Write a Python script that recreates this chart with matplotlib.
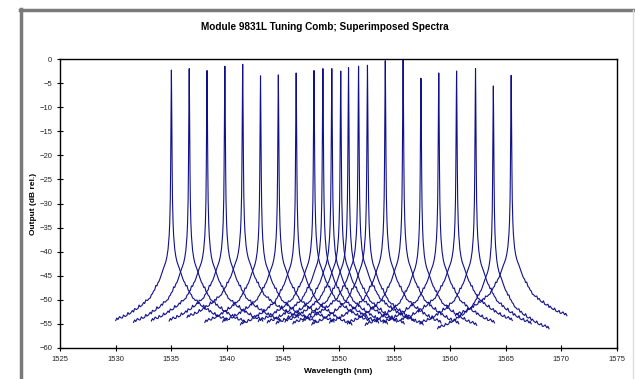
import matplotlib
matplotlib.use('Agg')
import matplotlib.pyplot as plt
from matplotlib.lines import Line2D
import numpy as np

plt.rcParams['font.family'] = ['Liberation Sans', 'DejaVu Sans']

# peak wavelength (nm), peak level and floor level (dB rel.) of each spectrum
centers = [1535.0, 1536.6, 1538.2, 1539.8, 1541.4, 1543.0, 1544.6, 1546.2,
           1547.8, 1548.6, 1549.4, 1550.2, 1550.9, 1551.8, 1552.6, 1554.2,
           1555.8, 1557.4, 1559.0, 1560.6, 1562.3, 1563.9, 1565.5]
peaks = [-2.3, -2.0, -2.4, -1.5, -1.1, -3.5, -3.3, -2.9, -2.4, -2.0, -2.0,
         -2.5, -1.8, -1.5, -1.3, -0.35, -0.05, -4.0, -2.9, -2.5, -2.0, -5.6, -3.4]
floors = [-54.3, -54.7, -54.4, -54.4, -53.7, -54.7, -54.6, -55.2, -54.5,
          -54.8, -55.0, -54.6, -55.0, -54.5, -55.2, -54.8, -55.0, -55.3,
          -54.8, -54.3, -55.0, -56.0, -53.3]

# shared line shape: distance from peak (nm) and
# fraction of the way from peak level down to floor level
shape_offset = [0.0, 0.02, 0.04, 0.07, 0.1, 0.15, 0.2, 0.3, 0.4, 0.5, 0.6,
                0.7, 0.85, 1.0, 1.1, 1.2, 1.3, 1.4, 1.5, 1.6, 1.7, 1.8, 1.9,
                2.0, 2.15, 2.3, 2.4, 2.5, 2.65, 2.8, 2.9, 3.0, 3.15, 3.3, 3.4,
                3.5, 3.65, 3.8, 3.9, 4.0, 4.15, 4.3, 4.4, 4.5, 4.65, 4.8, 4.9,
                5.0]
shape_frac = [0.0, 0.1, 0.22, 0.4, 0.52, 0.61, 0.66, 0.715, 0.745, 0.765, 0.778,
              0.79, 0.81, 0.83, 0.842, 0.848, 0.862, 0.86, 0.878, 0.882, 0.893,
              0.897, 0.91, 0.912, 0.92, 0.918, 0.932, 0.928, 0.94, 0.945,
              0.938, 0.952, 0.956, 0.952, 0.966, 0.96, 0.97, 0.975, 0.968,
              0.98, 0.984, 0.978, 0.99, 0.99, 0.984, 0.996, 0.99, 1.0]

off = np.array(shape_offset)
frac = np.array(shape_frac)
off_full = np.concatenate([-off[::-1], off[1:]])
frac_full = np.concatenate([frac[::-1], frac[1:]])

fig = plt.figure(figsize=(6.35, 3.79), dpi=100)
ax = fig.add_axes([60/635, 31/379, 557/635, 289/379])

for c, p, f in zip(centers, peaks, floors):
    ax.plot(c + off_full, p + (f - p) * frac_full, color='#10108c', lw=0.8)

ax.set_xlim(1525, 1575)
ax.set_ylim(-60, 0)
ax.set_xticks(np.arange(1525, 1576, 5))
ax.set_yticks(np.arange(-60, 1, 5))
ax.tick_params(direction='inout', length=5, width=0.8, labelsize=5.5,
               pad=3, labelcolor='#222222')
for s in ax.spines.values():
    s.set_linewidth(1.0)

ax.set_xlabel('Wavelength (nm)', fontsize=6, fontweight='bold', labelpad=4)
ax.set_ylabel('Output (dB rel.)', fontsize=6, fontweight='bold', labelpad=2)
fig.text(0.512, 0.929, 'Module 9831L Tuning Comb; Superimposed Spectra',
         ha='center', va='center', fontsize=7.2, fontweight='bold')

# chart area border
fig.add_artist(Line2D([21/635, 21/635], [0, 1 - 9/379], color='#7a7a7a', lw=2.5))
fig.add_artist(Line2D([20/635, 633/635], [1 - 10/379, 1 - 10/379], color='#7a7a7a', lw=2.5))
fig.add_artist(Line2D([633/635, 633/635], [0, 1 - 10/379], color='#dddddd', lw=1))

fig.savefig('out.png', dpi=100)
